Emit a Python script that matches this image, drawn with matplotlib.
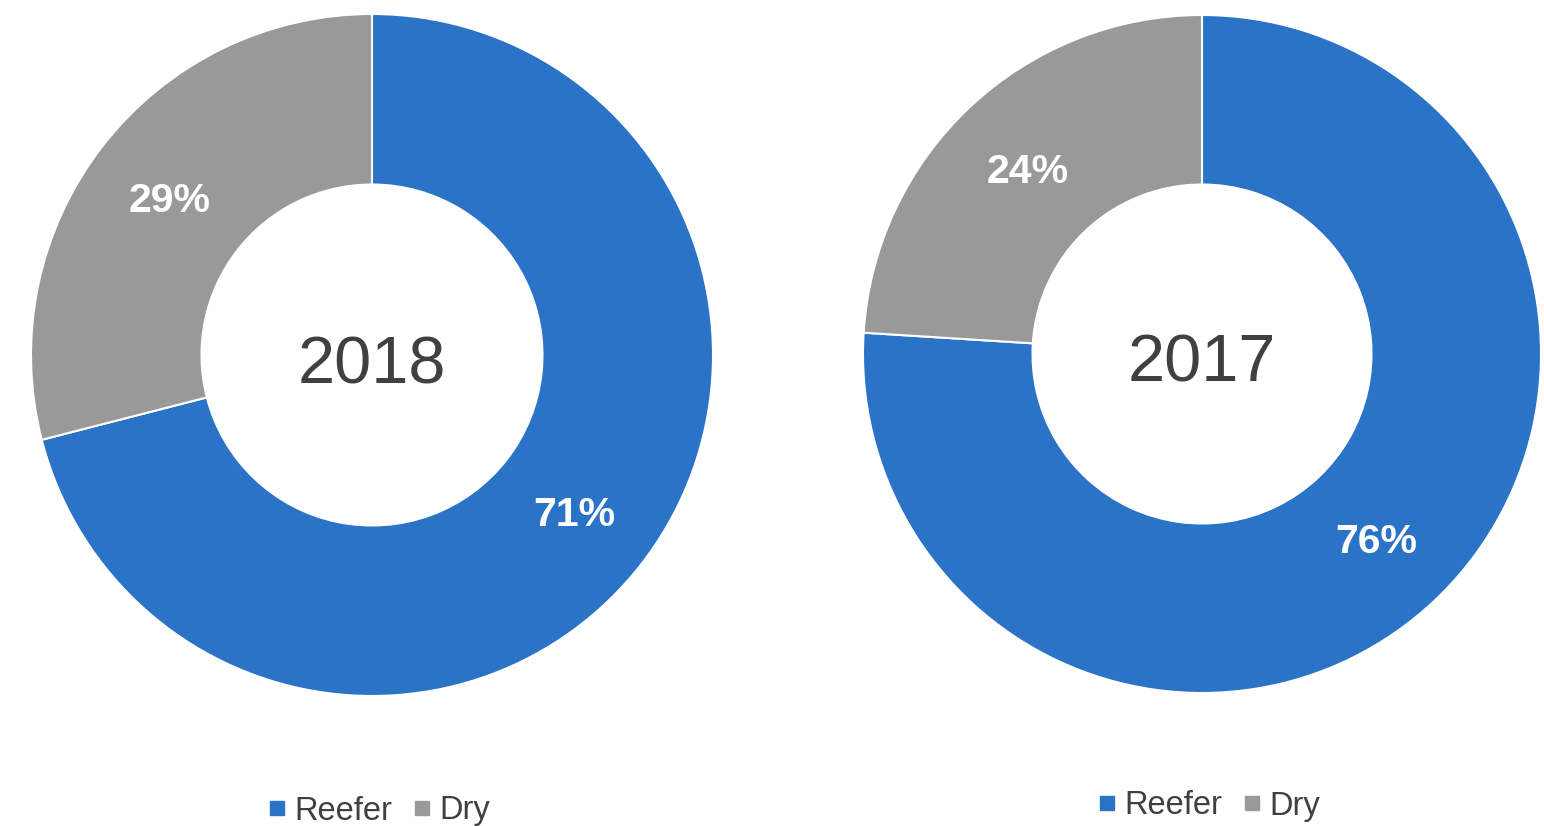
import numpy as np
import matplotlib
matplotlib.use("Agg")
import matplotlib.pyplot as plt
from matplotlib.lines import Line2D

plt.rcParams['font.family'] = ['Liberation Sans', 'DejaVu Sans']

categories = ["Reefer", "Dry"]
values_2018 = [71, 29]
values_2017 = [76, 24]
years = ["2018", "2017"]
colors = ["#2A73C7", "#999999"]

W, H = 1544, 826
fig = plt.figure(figsize=(W / 100, H / 100), dpi=100)

def add_donut(cx, cy, r, values, year, legend_xy):
    ax = fig.add_axes([(cx - r) / W, (H - cy - r) / H, 2 * r / W, 2 * r / H])
    wedges, _ = ax.pie(values, colors=colors, startangle=90, counterclock=False,
                       radius=1,
                       wedgeprops=dict(width=0.5, edgecolor="white", linewidth=1.5))
    cap = 28.0 / r
    for w, v in zip(wedges, values):
        mid = np.deg2rad((w.theta1 + w.theta2) / 2.0)
        x, y = 0.75 * np.cos(mid), 0.75 * np.sin(mid)
        ax.text(x, y - cap / 2, f"{v}%", ha="center", va="baseline",
                color="white", fontsize=29.5, fontweight="bold")
    ax.text(0, -28.0 / r, year, ha="center", va="baseline", fontsize=48,
            color="#404040")
    ax.set_xlim(-1, 1)
    ax.set_ylim(-1, 1)
    ax.set_aspect("equal")
    ax.axis("off")
    handles = [Line2D([], [], marker="s", linestyle="none", markersize=9.4, color=c)
               for c in colors]
    fig.legend(handles, categories, loc="center", ncol=2, frameon=False,
               bbox_to_anchor=(legend_xy[0] / W, 1 - legend_xy[1] / H),
               fontsize=23.5, labelcolor="#404040", handletextpad=0.25,
               columnspacing=0.65, handlelength=0.55, borderpad=0, borderaxespad=0)

add_donut(372, 355, 341, values_2018, years[0], (379, 811))
add_donut(1202, 354, 339, values_2017, years[1], (1209, 806))

fig.savefig("out.png", dpi=100)
